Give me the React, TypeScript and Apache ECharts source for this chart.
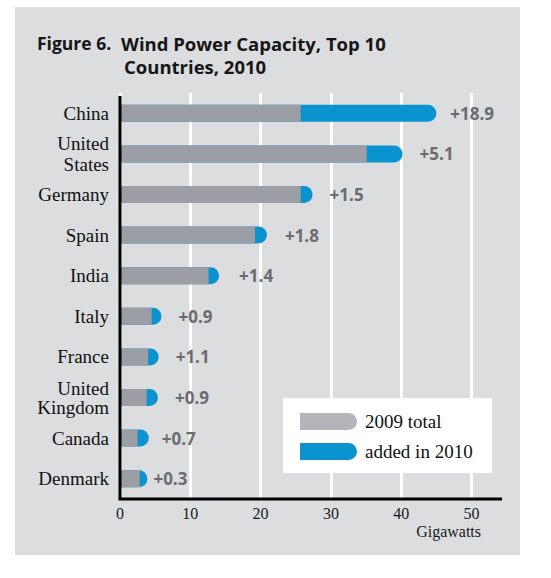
import React, { useEffect, useRef } from "react";
import * as echarts from "echarts";

const countries = ["China", "United\nStates", "Germany", "Spain", "India", "Italy", "France", "United\nKingdom", "Canada", "Denmark"];
const total2009 = [25.7, 35.1, 25.7, 19.2, 12.6, 4.5, 4.0, 3.8, 2.5, 2.8];
const total2010 = [45.0, 40.2, 27.4, 20.9, 14.1, 5.9, 5.5, 5.4, 4.1, 3.9];
const added2010 = ["+18.9", "+5.1", "+1.5", "+1.8", "+1.4", "+0.9", "+1.1", "+0.9", "+0.7", "+0.3"];
const xTicks = [0, 10, 20, 30, 40, 50];

const labelGaps = [14, 17, 17, 18, 20, 17, 17, 17, 13, 6];
const lineHeights = [19, 21, 19, 19, 19, 19, 19, 19, 19, 19];

const GRAY = "#9c9ea5";
const BLUE = "#0b93cf";
const SERIF = "'Liberation Serif', 'Times New Roman', serif";
const SANS = "'Open Sans', 'Noto Sans', sans-serif";

export default function App() {
  const ref = useRef<HTMLDivElement>(null);
  useEffect(() => {
    if (!ref.current) return;
    const chart = echarts.init(ref.current, undefined, { renderer: "svg" });
    const gridLeft = 120;
    const gridRightPx = 471.5;
    const gridTop = 93;
    const gridH = 406;
    const axisY = gridTop + gridH;
    chart.setOption({
      animation: false,
      graphic: [
        { type: "rect", z: -10, shape: { x: 15, y: 7, width: 505, height: 548 }, style: { fill: "#dcdddf" } },
        { type: "text", x: 37, y: 43, style: { text: "Figure 6.", font: `bold 17.5px ${SANS}`, fill: "#161616", verticalAlign: "middle" } },
        { type: "text", x: 121, y: 43, style: { text: "Wind Power Capacity, Top 10", font: `bold 18.5px ${SANS}`, fill: "#161616", verticalAlign: "middle" } },
        { type: "text", x: 124, y: 66, style: { text: "Countries, 2010", font: `bold 18.5px ${SANS}`, fill: "#161616", verticalAlign: "middle" } },
        { type: "line", z: 10, shape: { x1: gridLeft - 1.5, y1: axisY, x2: 502, y2: axisY }, style: { stroke: "#000", lineWidth: 3 } },
        { type: "line", z: 10, shape: { x1: gridLeft, y1: 96, x2: gridLeft, y2: axisY }, style: { stroke: "#000", lineWidth: 3 } },
        { type: "text", x: 481, y: 531, style: { text: "Gigawatts", font: `16px ${SERIF}`, fill: "#1a1a1a", align: "right", verticalAlign: "middle" } },
        { type: "rect", z: 20, shape: { x: 283, y: 398, width: 209, height: 75 }, style: { fill: "#ffffff" } },
        { type: "rect", z: 21, shape: { x: 300, y: 413, width: 57, height: 17, r: [0, 8.5, 8.5, 0] }, style: { fill: "#b3b5bb" } },
        { type: "rect", z: 21, shape: { x: 300, y: 443, width: 57, height: 17, r: [0, 8.5, 8.5, 0] }, style: { fill: BLUE } },
        { type: "text", z: 21, x: 365, y: 421, style: { text: "2009 total", font: `19px ${SERIF}`, fill: "#111", verticalAlign: "middle" } },
        { type: "text", z: 21, x: 365, y: 451, style: { text: "added in 2010", font: `19px ${SERIF}`, fill: "#111", verticalAlign: "middle" } },
      ],
      grid: { left: gridLeft, width: gridRightPx - gridLeft, top: gridTop, height: gridH, containLabel: false },
      xAxis: {
        type: "value",
        min: xTicks[0],
        max: xTicks[xTicks.length - 1],
        interval: 10,
        axisLine: { show: false },
        axisTick: { show: false },
        axisLabel: { margin: 6, fontFamily: SERIF, fontSize: 16, color: "#1a1a1a" },
        splitLine: { show: true, lineStyle: { color: "#ffffff", width: 3 } },
      },
      yAxis: {
        type: "category",
        inverse: true,
        data: countries.map((c, i) => ({ value: c, textStyle: { lineHeight: lineHeights[i] } })),
        axisLine: { show: false },
        axisTick: { show: false },
        axisLabel: { margin: 11, fontFamily: SERIF, fontSize: 19, color: "#111", align: "right" },
        splitLine: { show: false },
      },
      series: [
        {
          name: "added in 2010",
          type: "bar",
          barWidth: 17,
          barGap: "-100%",
          data: total2010.map((v, i) => ({
            value: v,
            label: {
              show: true,
              position: "right",
              distance: labelGaps[i],
              formatter: added2010[i],
              fontFamily: SANS,
              fontWeight: "bold",
              fontSize: 17,
              color: "#6b6c70",
            },
          })),
          itemStyle: { color: BLUE, borderRadius: [0, 8.5, 8.5, 0] },
        },
        {
          name: "2009 total",
          type: "bar",
          barWidth: 17,
          barGap: "-100%",
          data: total2009,
          itemStyle: { color: GRAY },
        },
      ],
    });
    return () => chart.dispose();
  }, []);
  return <div ref={ref} style={{ position: "absolute", left: 0, top: 0, width: 551, height: 578 }} />;
}
